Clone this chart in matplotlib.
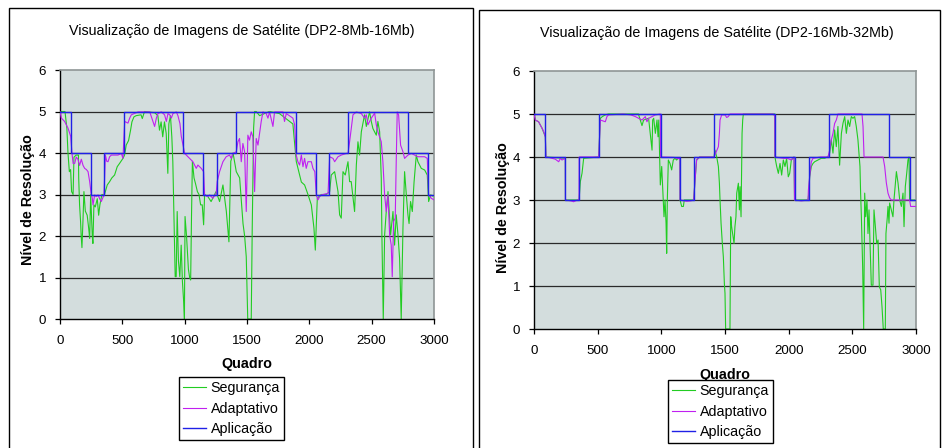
import matplotlib
matplotlib.use("Agg")
import matplotlib.pyplot as plt
from matplotlib.patches import Rectangle

plt.rcParams["font.family"] = ["Liberation Sans", "DejaVu Sans"]

# ---------------- data: DP2-8Mb-16Mb ----------------
app1_x = [0, 88, 249, 355, 513, 989, 1150, 1260, 1414, 1890, 2050, 2160, 2313, 2792, 2952, 3000]
app1_y = [5, 4, 3, 4, 5, 4, 3, 4, 5, 4, 3, 4, 5, 4, 3, 3]

seg1_x = [0, 40, 55, 64, 75, 85, 93, 105, 112, 130, 148, 150, 157, 165, 170, 176, 184, 192,
          203, 218, 230, 238, 246, 251, 259, 264, 272, 283, 299, 310, 320, 336, 357, 379,
          398, 416, 438, 459, 478, 505, 518, 531, 550, 566, 577, 593, 611, 650, 660, 678,
          760, 785, 798, 811, 824, 838, 852, 865, 873, 886, 897, 905, 913, 924, 932, 940,
          950, 961, 972, 982, 992, 998, 1003, 1015, 1030, 1040, 1048, 1055, 1062, 1075,
          1088, 1102, 1115, 1128, 1141, 1152, 1160, 1186, 1212, 1252, 1280, 1307, 1334,
          1355, 1370, 1388, 1414, 1441, 1468, 1481, 1494, 1500, 1506, 1534, 1542, 1553,
          1561, 1574, 1601, 1680, 1760, 1868, 1895, 1922, 1936, 1962, 1989, 2016, 2037,
          2048, 2064, 2096, 2136, 2163, 2176, 2203, 2230, 2243, 2256, 2270, 2288, 2310,
          2323, 2336, 2363, 2377, 2390, 2403, 2417, 2443, 2457, 2483, 2497, 2510, 2537,
          2550, 2564, 2577, 2582, 2593, 2604, 2617, 2631, 2652, 2671, 2684, 2697, 2711,
          2724, 2737, 2751, 2764, 2778, 2791, 2800, 2812, 2826, 2840, 2858, 2871, 2898,
          2925, 2946, 2957, 2973, 3000]
seg1_y = [5.0, 5.0, 4.6, 4.0, 3.55, 3.6, 3.07, 3.0, 3.9, 3.95, 3.95, 3.4, 2.75, 2.35, 2.0, 1.72,
          2.35, 3.07, 2.6, 2.5, 2.19, 1.94, 3.0, 2.6, 2.0, 1.82, 2.75, 2.7, 2.9, 2.5, 2.75,
          3.0, 3.0, 3.23, 3.31, 3.4, 3.47, 3.67, 3.75, 3.87, 3.95, 4.19, 4.3, 4.55, 4.75,
          4.87, 4.9, 4.92, 4.83, 5.0, 4.97, 4.9, 4.55, 4.75, 4.39, 4.75, 4.47, 3.51, 4.7,
          4.9, 4.39, 3.79, 2.59, 1.02, 1.02, 2.59, 1.4, 1.02, 1.78, 0.9, 0.42, 0.0, 2.47,
          2.0, 1.2, 1.0, 0.94, 2.5, 3.8, 3.4, 3.25, 3.07, 3.0, 2.75, 2.75, 2.27, 3.0, 2.95,
          2.83, 3.07, 2.83, 3.23, 2.6, 1.86, 3.8, 4.0, 3.55, 3.4, 2.3, 2.0, 1.5, 0.8, 0.0,
          0.0, 2.2, 4.6, 5.0, 5.0, 4.9, 5.0, 4.95, 4.7, 3.8, 3.47, 3.3, 3.23, 3.0, 2.75,
          2.19, 1.66, 2.91, 3.0, 3.0, 3.07, 3.47, 3.55, 3.07, 2.51, 2.43, 3.55, 3.47, 3.79,
          3.31, 3.31, 2.59, 3.71, 4.27, 3.95, 4.51, 4.92, 4.64, 4.99, 4.76, 4.59, 4.43,
          4.76, 4.51, 3.39, 2.03, 0.0, 2.03, 2.59, 3.07, 2.03, 2.59, 1.78, 2.51, 2.03, 1.46,
          0.0, 2.19, 3.55, 2.99, 2.51, 2.3, 2.83, 2.59, 3.3, 3.95, 3.79, 3.63, 3.59, 3.47,
          2.83, 2.99, 2.95]

ada1_x = [0, 11, 37, 64, 86, 96, 105, 118, 130, 144, 157, 171, 185, 198, 212, 225, 238, 251,
          259, 265, 278, 291, 305, 318, 331, 353, 364, 375, 385, 398, 412, 465, 492, 505,
          519, 545, 559, 572, 626, 720, 746, 759, 773, 786, 813, 839, 853, 866, 880, 893,
          906, 933, 946, 962, 973, 986, 1000, 1013, 1039, 1066, 1093, 1106, 1133, 1152,
          1160, 1186, 1200, 1226, 1253, 1261, 1280, 1307, 1333, 1360, 1374, 1387, 1414,
          1427, 1440, 1454, 1467, 1481, 1494, 1507, 1520, 1534, 1547, 1561, 1574, 1588,
          1601, 1614, 1628, 1654, 1668, 1681, 1708, 1721, 1788, 1801, 1815, 1868, 1882,
          1895, 1908, 1922, 1936, 1949, 1962, 1975, 1989, 2016, 2029, 2044, 2056, 2069,
          2083, 2096, 2123, 2150, 2163, 2190, 2203, 2230, 2256, 2296, 2310, 2323, 2336,
          2350, 2377, 2417, 2443, 2457, 2470, 2497, 2524, 2537, 2550, 2577, 2590, 2604,
          2617, 2631, 2644, 2657, 2665, 2676, 2689, 2697, 2705, 2716, 2732, 2751, 2764,
          2791, 2818, 2844, 2871, 2898, 2925, 2946, 2957, 2978, 3000]
ada1_y = [5.0, 4.84, 4.76, 4.6, 4.4, 4.0, 3.75, 3.75, 3.9, 3.85, 3.7, 3.85, 3.7, 3.63, 3.6,
          3.55, 3.31, 2.99, 2.91, 2.75, 2.99, 2.95, 2.99, 2.9, 2.83, 2.99, 3.95, 3.8, 3.79,
          3.91, 3.95, 3.95, 3.99, 3.87, 4.76, 4.72, 4.84, 4.92, 4.99, 4.99, 4.76, 4.64,
          4.84, 4.95, 4.99, 4.92, 4.76, 4.95, 4.92, 4.84, 4.95, 4.99, 4.9, 4.71, 4.4, 4.2,
          3.99, 3.95, 3.87, 3.79, 3.63, 3.71, 3.63, 3.55, 2.99, 2.95, 2.99, 2.91, 3.03,
          3.31, 3.55, 3.79, 3.91, 3.95, 3.87, 3.99, 4.03, 4.27, 4.35, 3.79, 4.23, 4.03,
          2.59, 4.43, 4.31, 4.51, 4.39, 3.07, 4.35, 4.19, 4.47, 4.76, 4.99, 4.95, 4.84,
          4.99, 4.64, 4.99, 4.99, 4.76, 4.95, 4.84, 4.68, 3.95, 3.79, 3.71, 3.95, 3.67,
          3.87, 3.63, 3.79, 3.79, 3.63, 3.55, 2.99, 2.87, 2.95, 2.99, 3.01, 3.03, 3.91,
          3.87, 3.79, 3.91, 3.95, 3.99, 3.99, 4.27, 4.59, 4.92, 4.99, 4.95, 4.84, 4.92,
          4.68, 4.84, 4.96, 4.68, 4.51, 4.27, 3.79, 2.99, 2.59, 2.99, 2.03, 1.78, 1.02,
          2.35, 2.43, 3.79, 4.99, 4.92, 4.19, 4.03, 3.87, 3.95, 3.99, 3.95, 3.91, 3.91,
          3.91, 3.87, 2.99, 2.91, 2.87]

# ---------------- data: DP2-16Mb-32Mb ----------------
app2_x = [0, 89, 247, 354, 514, 994, 1146, 1254, 1414, 1891, 2046, 2158, 2313, 2790, 2950, 3000]
app2_y = [5, 4, 3, 4, 5, 4, 3, 4, 5, 4, 3, 4, 5, 4, 3, 3]

seg2_x = [0, 10, 36, 63, 89, 94, 246, 247, 354, 364, 377, 390, 508, 521, 537, 560, 586, 820,
          848, 861, 900, 927, 932, 940, 953, 966, 974, 980, 992, 1003, 1010, 1021, 1029,
          1037, 1042, 1047, 1055, 1068, 1081, 1094, 1107, 1120, 1133, 1146, 1147, 1160,
          1173, 1180, 1254, 1265, 1277, 1300, 1414, 1421, 1435, 1448, 1456, 1461, 1469,
          1479, 1487, 1495, 1500, 1505, 1539, 1545, 1552, 1560, 1571, 1578, 1586, 1592,
          1605, 1613, 1618, 1626, 1634, 1639, 1644, 1891, 1892, 1906, 1919, 1932, 1945,
          1958, 1971, 1984, 1997, 2008, 2021, 2042, 2046, 2152, 2158, 2165, 2178, 2191,
          2204, 2230, 2256, 2283, 2309, 2322, 2335, 2348, 2361, 2374, 2387, 2400, 2414,
          2427, 2440, 2453, 2466, 2479, 2492, 2505, 2518, 2531, 2544, 2552, 2560, 2565,
          2571, 2581, 2589, 2597, 2605, 2615, 2623, 2631, 2641, 2649, 2662, 2670, 2681,
          2691, 2702, 2712, 2723, 2733, 2743, 2759, 2764, 2775, 2780, 2788, 2793, 2806,
          2819, 2827, 2838, 2846, 2859, 2872, 2885, 2898, 2906, 2916, 2927, 2937, 2945,
          2950, 3000]
seg2_y = [5.0, 4.86, 4.82, 4.67, 4.47, 4.0, 3.97, 3.0, 3.0, 3.43, 3.62, 3.97, 4.0, 4.9, 4.94,
          4.98, 5.0, 5.0, 4.73, 4.86, 4.9, 4.16, 4.86, 4.9, 4.55, 4.86, 4.47, 4.86, 3.35,
          3.78, 3.31, 2.61, 3.0, 2.46, 1.76, 3.0, 3.93, 3.85, 3.7, 3.93, 3.97, 3.93, 3.97,
          3.97, 3.0, 2.85, 2.85, 3.0, 3.0, 3.47, 3.93, 4.0, 4.0, 4.16, 4.0, 3.78, 3.39, 3.0,
          2.46, 1.99, 1.68, 1.06, 0.83, 0.0, 0.0, 2.61, 2.38, 2.22, 1.99, 2.38, 2.61, 3.16,
          3.39, 2.77, 3.31, 2.61, 4.55, 4.86, 5.0, 5.0, 4.0, 3.78, 3.62, 3.85, 3.58, 3.93,
          3.78, 3.97, 3.54, 3.62, 3.93, 4.0, 3.0, 3.0, 3.16, 3.54, 3.78, 3.85, 3.89, 3.93,
          3.97, 3.97, 4.01, 4.09, 4.4, 4.09, 4.63, 4.24, 4.71, 3.81, 4.55, 4.79, 4.94, 4.55,
          4.86, 4.71, 4.94, 4.9, 4.94, 4.71, 4.4, 4.09, 3.78, 3.16, 2.61, 1.45, 0.0, 3.16,
          2.61, 3.0, 2.22, 2.77, 1.76, 1.02, 1.02, 2.77, 2.38, 1.99, 2.07, 0.98, 0.91, 0.52,
          0.0, 0.0, 2.22, 2.61, 2.85, 2.46, 2.93, 2.77, 2.61, 3.0, 3.39, 3.66, 3.39, 3.0,
          2.85, 3.16, 2.38, 3.31, 3.62, 3.93, 4.0, 3.0, 3.0]

ada2_x = [0, 10, 36, 50, 63, 76, 89, 94, 115, 141, 167, 194, 207, 220, 233, 246, 247, 290,
          311, 340, 354, 355, 508, 521, 560, 573, 586, 700, 760, 796, 822, 848, 874, 887,
          900, 927, 953, 992, 994, 1100, 1130, 1146, 1147, 1200, 1230, 1254, 1265, 1277,
          1300, 1414, 1421, 1448, 1456, 1461, 1474, 1500, 1513, 1526, 1539, 1880, 1891,
          1892, 1960, 1990, 2020, 2042, 2046, 2100, 2152, 2155, 2165, 2178, 2191, 2250,
          2309, 2322, 2335, 2348, 2361, 2374, 2387, 2576, 2584, 2592, 2741, 2754, 2767,
          2780, 2793, 2806, 2950, 2958, 3000]
ada2_y = [5.0, 4.86, 4.82, 4.74, 4.67, 4.59, 4.47, 4.0, 3.99, 3.97, 3.95, 3.89, 3.97, 3.93,
          3.95, 3.97, 3.0, 2.98, 2.96, 3.0, 3.0, 4.0, 4.0, 4.86, 4.82, 4.94, 4.98, 5.0, 4.98,
          4.94, 4.9, 4.86, 4.94, 4.82, 4.9, 4.94, 4.98, 5.0, 4.0, 3.99, 3.96, 3.97, 3.0,
          2.97, 2.98, 3.0, 3.47, 3.93, 4.0, 4.0, 4.05, 4.24, 4.55, 4.86, 4.98, 4.98, 4.92,
          4.94, 5.0, 5.0, 4.95, 4.0, 3.97, 3.97, 3.93, 4.0, 3.0, 2.98, 3.0, 3.23, 3.55, 3.89,
          3.97, 4.0, 4.0, 4.16, 4.4, 4.55, 4.78, 4.86, 5.0, 5.0, 4.71, 4.0, 4.0, 3.78, 3.4,
          3.16, 3.05, 3.0, 3.0, 2.85, 2.85]

panels = [
    dict(title="Visualização de Imagens de Satélite (DP2-8Mb-16Mb)",
         seg=(seg1_x, seg1_y), ada=(ada1_x, ada1_y), app=(app1_x, app1_y),
         rect=[60 / 942, 1 - 319 / 448, 374 / 942, 249 / 448],
         title_xy=(242 / 942, 1 - 31 / 448),
         frame=(8.5, 472.5, 8.5),
         legend_xy=(179 / 942, 1 - 377 / 448),
         ylab=(-0.066, 0.48), xlab=(0.5, -0.153)),
    dict(title="Visualização de Imagens de Satélite (DP2-16Mb-32Mb)",
         seg=(seg2_x, seg2_y), ada=(ada2_x, ada2_y), app=(app2_x, app2_y),
         rect=[534 / 942, 1 - 329 / 448, 382 / 942, 258 / 448],
         title_xy=(717 / 942, 1 - 33 / 448),
         frame=(478.5, 939.5, 10.5),
         legend_xy=(668 / 942, 1 - 380 / 448),
         ylab=(-0.062, 0.47), xlab=(0.5, -0.151)),
]

GREEN = "#22CC22"
MAGENTA = "#C020F0"
BLUE = "#2020E6"
PLOT_BG = "#D3DDDD"

fig = plt.figure(figsize=(9.42, 4.48), dpi=100)
fig.patch.set_facecolor("white")

for p in panels:
    x0, x1, y0 = p["frame"]
    fig.patches.append(Rectangle((x0 / 942, -0.05), (x1 - x0) / 942, 1.05 - y0 / 448,
                                 transform=fig.transFigure, fill=False,
                                 edgecolor="black", linewidth=1.0))

    ax = fig.add_axes(p["rect"])
    ax.set_facecolor(PLOT_BG)
    ax.set_xlim(0, 3000)
    ax.set_ylim(0, 6)
    ax.set_xticks(range(0, 3001, 500))
    ax.set_yticks(range(0, 7))
    ax.set_axisbelow(True)
    for lvl in range(1, 6):
        ax.axhline(lvl, color="#2a2a2a", linewidth=0.9, zorder=1)

    l1, = ax.plot(*p["seg"], color=GREEN, linewidth=0.8, zorder=2, label="Segurança")
    l2, = ax.plot(*p["ada"], color=MAGENTA, linewidth=0.8, zorder=3, label="Adaptativo")
    l3, = ax.plot(*p["app"], color=BLUE, linewidth=1.0, zorder=4, drawstyle="steps-post",
                  label="Aplicação")

    for side in ("top", "right"):
        ax.spines[side].set_color("#8f9696")
        ax.spines[side].set_linewidth(1.2)
    for side in ("left", "bottom"):
        ax.spines[side].set_color("black")
        ax.spines[side].set_linewidth(1.0)

    ax.tick_params(direction="out", length=3.5, width=0.9, labelsize=9.6, pad=6.5,
                   colors="black")
    ax.tick_params(axis="x", pad=8)

    fig.text(p["title_xy"][0], p["title_xy"][1], p["title"], ha="center", va="center",
             fontsize=10.3)
    ax.set_ylabel("Nível de Resolução", fontsize=10.3, fontweight="bold")
    ax.yaxis.set_label_coords(*p["ylab"])
    ax.set_xlabel("Quadro", fontsize=10.3, fontweight="bold")
    ax.xaxis.set_label_coords(*p["xlab"])

    leg = fig.legend(handles=[l1, l2, l3], loc="upper left", bbox_to_anchor=p["legend_xy"],
                     bbox_transform=fig.transFigure, fontsize=10.3, frameon=True,
                     fancybox=False, framealpha=1, edgecolor="black", borderpad=0.3,
                     labelspacing=0.45, handlelength=1.6, handletextpad=0.3,
                     borderaxespad=0)
    leg.get_frame().set_linewidth(1.0)

fig.savefig("out.png", dpi=100, facecolor="white")
